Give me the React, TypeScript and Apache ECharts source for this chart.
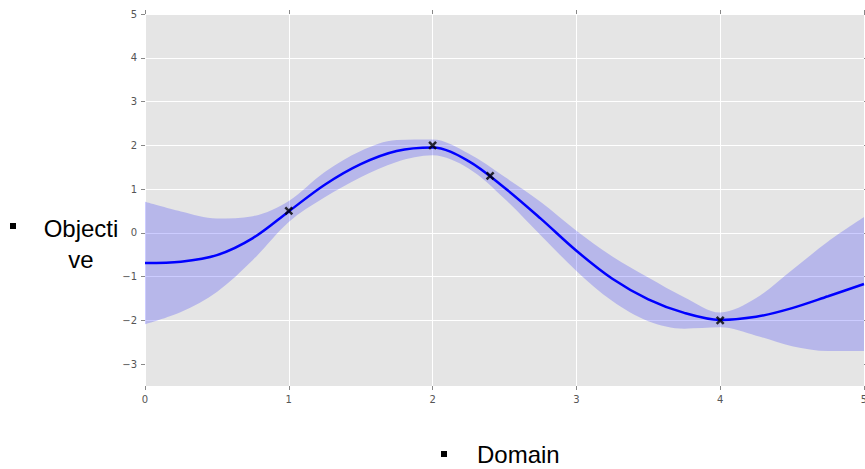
import React, { useEffect, useRef } from 'react';
import * as echarts from 'echarts';

const xs = [0, 0.25, 0.5, 0.75, 1, 1.25, 1.5, 1.75, 2, 2.25, 2.5, 2.75, 3, 3.25, 3.5, 3.75, 4, 4.25, 4.5, 4.75, 5];
const meanValues = [-0.69, -0.66, -0.51, -0.12, 0.49, 1.1, 1.57, 1.87, 1.95, 1.64, 1.03, 0.33, -0.41, -1.05, -1.52, -1.83, -1.99, -1.92, -1.72, -1.45, -1.17];
const bandHalfWidth = [1.4, 1.15, 0.84, 0.5, 0.24, 0.29, 0.3, 0.25, 0.18, 0.17, 0.25, 0.38, 0.46, 0.51, 0.5, 0.36, 0.17, 0.43, 0.87, 1.25, 1.53];
const obsX = [1, 2, 2.4, 4];
const obsY = [0.5, 2.0, 1.3, -2.0];
const yTicks = [-3, -2, -1, 0, 1, 2, 3, 4, 5];
const yLabel = ['Objecti', 've'];
const xLabel = 'Domain';

const lowerValues = meanValues.map((m, i) => m - bandHalfWidth[i]);
const bandWidth = bandHalfWidth.map((h) => 2 * h);

const fmt = (v: number) => String(v).replace('-', '\u2212');
const SMOOTH = 0.33;

export default function App() {
  const ref = useRef<HTMLDivElement>(null);
  useEffect(() => {
    if (!ref.current) return;
    const chart = echarts.init(ref.current, null, { renderer: 'svg' });
    const tickStyle = { color: '#888', width: 1 };
    const labelStyle = { color: '#555', fontSize: 10, fontFamily: 'DejaVu Sans' };
    const font = '24px "Liberation Sans", Arial, sans-serif';
    chart.setOption({
      animation: false,
      backgroundColor: '#ffffff',
      grid: {
        left: 145,
        right: 1,
        top: 14,
        bottom: 83,
        show: true,
        backgroundColor: '#e5e5e5',
        borderWidth: 0,
        outerBoundsMode: 'none',
        containLabel: false,
      },
      xAxis: [
        {
          type: 'value',
          min: 0,
          max: 5,
          interval: 1,
          position: 'bottom',
          axisLine: { show: false, onZero: false },
          axisTick: { show: true, length: 4, lineStyle: tickStyle },
          axisLabel: { ...labelStyle, margin: 8 },
          splitLine: { show: true, lineStyle: { color: '#ffffff', width: 1 } },
        },
        {
          type: 'value',
          min: 0,
          max: 5,
          interval: 1,
          position: 'top',
          axisLine: { show: false, onZero: false },
          axisTick: { show: true, length: 4, lineStyle: tickStyle },
          axisLabel: { show: false },
          splitLine: { show: false },
        },
        {
          type: 'category',
          data: xs.map(String),
          boundaryGap: false,
          show: false,
        },
      ],
      yAxis: [
        {
          type: 'value',
          min: -3.5,
          max: 5,
          splitNumber: 8,
          position: 'left',
          axisLine: { show: false, onZero: false },
          axisTick: { show: true, length: 4, lineStyle: tickStyle, customValues: yTicks },
          axisLabel: { ...labelStyle, margin: 8, formatter: fmt, customValues: yTicks },
          splitLine: { show: true, showMinLine: false, lineStyle: { color: '#ffffff', width: 1 } },
        },
        {
          type: 'value',
          min: -3.5,
          max: 5,
          splitNumber: 8,
          position: 'right',
          axisLine: { show: false, onZero: false },
          axisTick: { show: true, length: 4, lineStyle: tickStyle, customValues: yTicks },
          axisLabel: { show: false },
          splitLine: { show: false },
        },
      ],
      series: [
        {
          type: 'line',
          name: 'lower',
          xAxisIndex: 2,
          stack: 'band',
          stackStrategy: 'all',
          data: lowerValues,
          smooth: SMOOTH,
          symbol: 'none',
          lineStyle: { opacity: 0 },
          silent: true,
          z: 1,
        },
        {
          type: 'line',
          name: 'band',
          xAxisIndex: 2,
          stack: 'band',
          stackStrategy: 'all',
          data: bandWidth,
          smooth: SMOOTH,
          symbol: 'none',
          lineStyle: { opacity: 0 },
          areaStyle: { color: 'rgba(0,0,255,0.2)', opacity: 1 },
          silent: true,
          z: 1,
        },
        {
          type: 'line',
          name: 'mean',
          data: xs.map((x, i) => [x, meanValues[i]]),
          smooth: SMOOTH,
          symbol: 'none',
          lineStyle: { color: '#0000ff', width: 2.5 },
          z: 3,
        },
        {
          type: 'scatter',
          name: 'obs',
          data: obsX.map((x, i) => [x, obsY[i]]),
          symbol: 'path://M0,0L10,10M10,0L0,10',
          symbolSize: 7,
          itemStyle: { color: 'rgba(0,0,0,0)', borderColor: '#000000', borderWidth: 2.5 },
          z: 4,
        },
      ],
      graphic: [
        { type: 'rect', shape: { x: 10, y: 223, width: 6, height: 6 }, style: { fill: '#000' } },
        {
          type: 'text',
          x: 81,
          y: 228.7,
          style: { text: yLabel[0], fill: '#000', font, align: 'center', verticalAlign: 'middle' },
        },
        {
          type: 'text',
          x: 81,
          y: 259.7,
          style: { text: yLabel[1], fill: '#000', font, align: 'center', verticalAlign: 'middle' },
        },
        { type: 'rect', shape: { x: 441, y: 451, width: 6, height: 6 }, style: { fill: '#000' } },
        {
          type: 'text',
          x: 477,
          y: 454.4,
          style: { text: xLabel, fill: '#000', font, align: 'left', verticalAlign: 'middle' },
        },
      ],
    });
    return () => chart.dispose();
  }, []);
  return <div ref={ref} style={{ position: 'fixed', left: 0, top: 0, width: 865, height: 469 }} />;
}
